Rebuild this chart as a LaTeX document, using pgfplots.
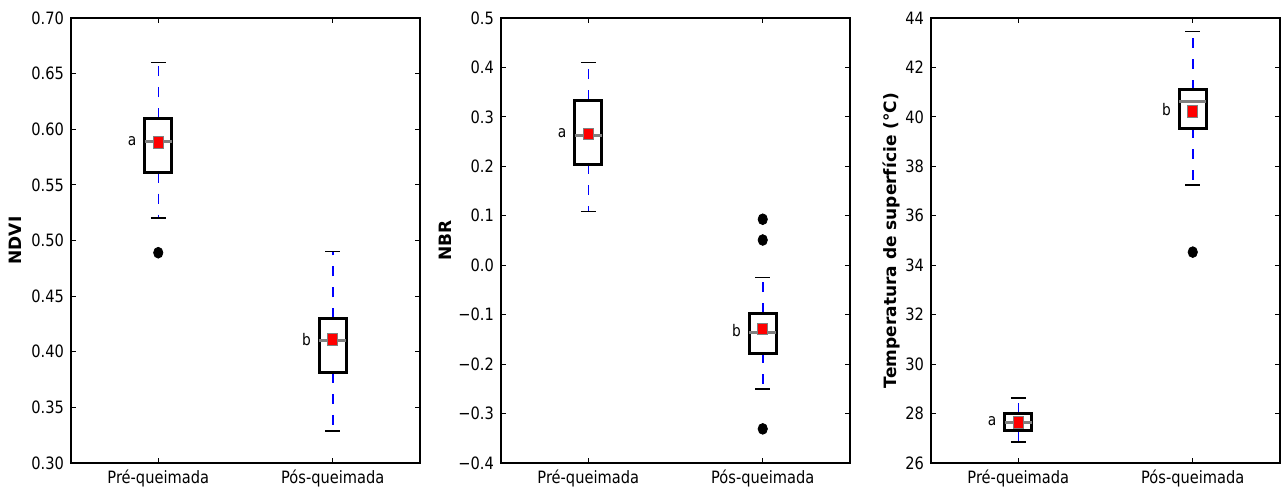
\documentclass[border=0pt]{standalone}
\usepackage{pgfplots}
\pgfplotsset{compat=1.18}
\usepgfplotslibrary{statistics}
\usepackage{fontspec}
\setmainfont{DejaVu Sans}[FakeStretch=0.86]
\newfontfamily\labfont{DejaVu Sans}
\definecolor{medgray}{RGB}{128,128,128}
\tikzset{
  wh/.style={color=blue, line width=0.75pt, dash pattern=on 5pt off 5.5pt},
  capst/.style={color=black, line width=0.8pt},
  meanmark/.style={draw=medgray, fill=red, line width=0.4pt, minimum width=5pt, minimum height=5.8pt, inner sep=0pt},
  letter/.style={anchor=east, inner sep=0pt, font=\fontsize{8}{9}\selectfont},
}
\pgfplotsset{
  panel/.style={
    scale only axis, width=174.5pt, height=222.5pt, anchor=south west,
    xmin=0.5, xmax=2.5, xtick={1,2}, xticklabels={Pré-queimada,Pós-queimada},
    tick align=inside, major tick length=2.5pt,
    tick style={black, line width=0.5pt},
    axis line style={line width=0.6pt},
    ticklabel style={font=\fontsize{8.5}{10}\selectfont},
    ylabel style={font=\fontsize{8.5}{10}\selectfont\labfont\bfseries, anchor=center},
    clip=false,
    boxplot/draw direction=y,
    boxplot/box extend=0.155,
    boxplot/whisker extend=0.085,
    boxplot/every box/.style={draw=black, line width=1.5pt},
    boxplot/every median/.style={draw=medgray, line width=1.5pt},
    boxplot/draw/lower whisker/.code={
      \draw[wh] (boxplot box cs:\pgfplotsboxplotvalue{lower quartile},0.5) -- (boxplot box cs:\pgfplotsboxplotvalue{lower whisker},0.5);
      \draw[capst] (boxplot whisker cs:\pgfplotsboxplotvalue{lower whisker},0) -- (boxplot whisker cs:\pgfplotsboxplotvalue{lower whisker},1);
    },
    boxplot/draw/upper whisker/.code={
      \draw[wh] (boxplot box cs:\pgfplotsboxplotvalue{upper quartile},0.5) -- (boxplot box cs:\pgfplotsboxplotvalue{upper whisker},0.5);
      \draw[capst] (boxplot whisker cs:\pgfplotsboxplotvalue{upper whisker},0) -- (boxplot whisker cs:\pgfplotsboxplotvalue{upper whisker},1);
    },
    boxplot/draw/average/.code={
      \node[meanmark] at (boxplot box cs:\pgfplotsboxplotvalue{average},0.5) {};
    },
  },
  bx/.style={black, mark=*, mark size=2.7pt, mark options={fill=black, xscale=0.86}},
}
\begin{document}
\begin{tikzpicture}
\useasboundingbox (0,0) rectangle (642pt,245.5pt);
% ---------- NDVI ----------
\begin{axis}[panel, at={(35.5pt,14pt)},
  ymin=0.30, ymax=0.70,
  ytick={0.30,0.35,0.40,0.45,0.50,0.55,0.60,0.65,0.70},
  yticklabels={0.30,0.35,0.40,0.45,0.50,0.55,0.60,0.65,0.70},
  ylabel={NDVI}, ylabel style={at={(axis description cs:-0.16,0.5)}}]
\addplot[bx, boxplot prepared={draw position=1, lower whisker=0.520, lower quartile=0.561,
  median=0.589, upper quartile=0.610, upper whisker=0.660, average=0.588}]
  table[row sep=\\, y index=0] {data\\ 0.489\\};
\addplot[bx, boxplot prepared={draw position=2, lower whisker=0.329, lower quartile=0.381,
  median=0.410, upper quartile=0.430, upper whisker=0.490, average=0.411}]
  coordinates {};
\node[letter] at (axis cs:0.877,0.589) {a};
\node[letter] at (axis cs:1.877,0.411) {b};
\end{axis}
% ---------- NBR ----------
\begin{axis}[panel, at={(250.5pt,14pt)},
  ymin=-0.4, ymax=0.5,
  ytick={-0.4,-0.3,-0.2,-0.1,0,0.1,0.2,0.3,0.4,0.5},
  yticklabels={−0.4,−0.3,−0.2,−0.1,0.0,0.1,0.2,0.3,0.4,0.5},
  ylabel={NBR}, ylabel style={at={(axis description cs:-0.16,0.5)}}]
\addplot[bx, boxplot prepared={draw position=1, lower whisker=0.109, lower quartile=0.204,
  median=0.263, upper quartile=0.334, upper whisker=0.410, average=0.266}]
  coordinates {};
\addplot[bx, boxplot prepared={draw position=2, lower whisker=-0.250, lower quartile=-0.178,
  median=-0.137, upper quartile=-0.097, upper whisker=-0.025, average=-0.129}]
  table[row sep=\\, y index=0] {data\\ 0.093\\ 0.051\\ -0.331\\};
\node[letter] at (axis cs:0.877,0.268) {a};
\node[letter] at (axis cs:1.877,-0.132) {b};
\end{axis}
% ---------- Temperatura ----------
\begin{axis}[panel, at={(465.5pt,14pt)},
  ymin=26, ymax=44,
  ytick={26,28,30,32,34,36,38,40,42,44},
  yticklabels={26,28,30,32,34,36,38,40,42,44},
  ylabel={Temperatura de superfície (°C)}, ylabel style={at={(axis description cs:-0.112,0.5)}}]
\addplot[bx, boxplot prepared={draw position=1, lower whisker=26.84, lower quartile=27.30,
  median=27.64, upper quartile=28.02, upper whisker=28.63, average=27.64}]
  coordinates {};
\addplot[bx, boxplot prepared={draw position=2, lower whisker=37.24, lower quartile=39.54,
  median=40.62, upper quartile=41.10, upper whisker=43.45, average=40.23}]
  table[row sep=\\, y index=0] {data\\ 34.53\\};
\node[letter] at (axis cs:0.877,27.70) {a};
\node[letter] at (axis cs:1.877,40.30) {b};
\end{axis}
\end{tikzpicture}
\end{document}
